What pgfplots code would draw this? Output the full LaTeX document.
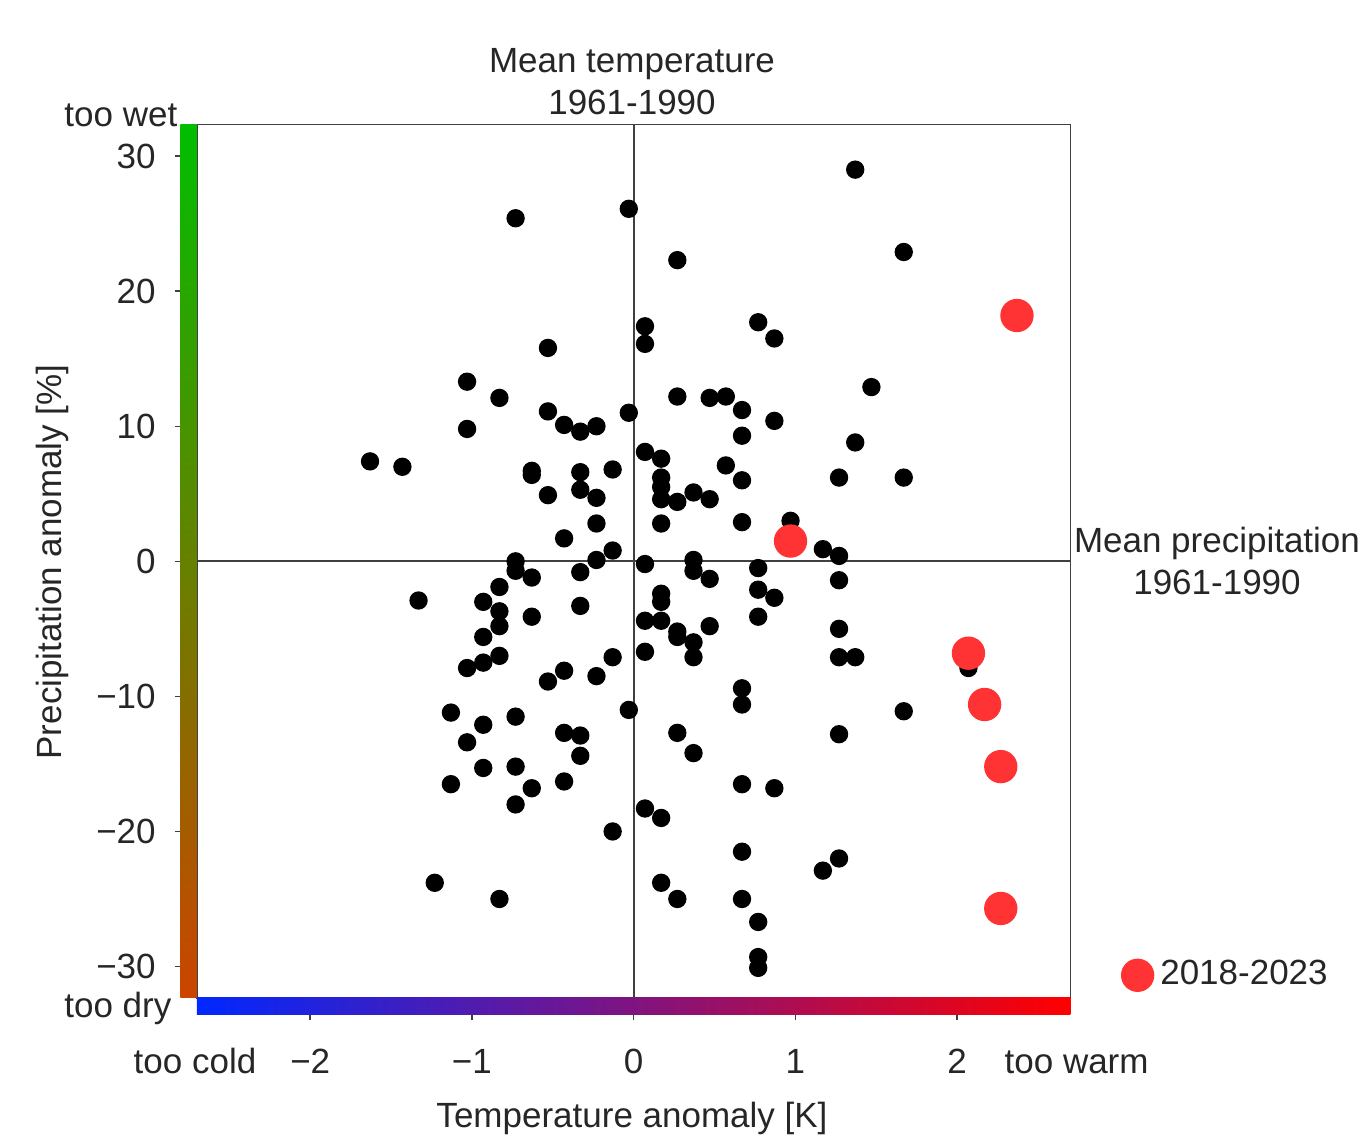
\documentclass[border=0pt]{standalone}
\usepackage{fontspec}
\setmainfont{Liberation Sans}
\usepackage{pgfplots}
\pgfplotsset{compat=1.18}
\definecolor{txt}{HTML}{262626}
\definecolor{dotred}{HTML}{FF3333}
\definecolor{wet}{HTML}{00BE00}
\definecolor{dry}{HTML}{CC4400}
\definecolor{cold}{HTML}{0028FF}
\definecolor{warm}{HTML}{FF0000}

\begin{document}
\fontsize{10.5pt}{12.6pt}\selectfont
\begin{tikzpicture}[text=txt]
\path[use as bounding box] (-59.1pt,-43.5pt) rectangle (348.9pt,299.4pt);
\begin{axis}[
  width=262pt, height=262pt, scale only axis,
  xmin=-2.7, xmax=2.7, ymin=-32.33, ymax=32.33,
  clip=false,
  axis line style={draw=black!75, line width=0.45pt},
  tick align=outside,
  major tick length=6.7pt,
  tick style={black!75, line width=0.45pt},
  xtick pos=bottom, ytick pos=left,
  xtick={-2,-1,0,1,2}, xticklabels={−2,−1,0,1,2},
  ytick={-30,-20,-10,0,10,20,30},
  yticklabels={−30,−20,−10,0,10,20,30},
  xticklabel style={yshift=-5pt},
  yticklabel style={xshift=-2pt},
  legend style={at={(axis description cs:1.058,0.026)}, anchor=west,
    draw=none, fill=none, inner sep=0pt},
  legend image code/.code={\draw[mark repeat=2,mark phase=2]
    plot coordinates {(0pt,0pt) (4.8pt,0pt) (9.6pt,0pt)};},
]
% colour bars along the axes
\shade[top color=wet, bottom color=dry]
  ([xshift=-5pt]rel axis cs:0,0) rectangle (rel axis cs:0,1);
\shade[left color=cold, right color=warm]
  ([yshift=-5pt]rel axis cs:0,0) rectangle (rel axis cs:1,0);
% reference lines (1961-1990 means)
\draw[black!75, line width=0.6pt] (axis cs:0,-32.33) -- (axis cs:0,32.33);
\draw[black!75, line width=0.6pt] (axis cs:-2.7,0) -- (axis cs:2.7,0);

% earlier years
\addplot[only marks, mark=*, mark size=2.55pt,
  mark options={fill=black, draw=none}, forget plot] coordinates {
  (1.37,29.0) (-0.03,26.1) (-0.73,25.4) (1.67,22.9) (0.27,22.3)
  (0.07,17.4) (0.07,16.1) (0.77,17.7) (0.87,16.5) (-0.53,15.8)
  (1.47,12.9) (-1.03,13.3) (-0.83,12.1) (0.27,12.2) (0.47,12.1)
  (0.57,12.2) (0.67,11.2) (-0.03,11.0) (-0.53,11.1) (-0.43,10.1)
  (-0.33,9.6) (-0.23,10.0) (-1.03,9.8) (0.87,10.4) (0.67,9.3)
  (1.37,8.8) (0.07,8.1) (0.17,7.6) (-1.63,7.4) (-1.43,7.0)
  (-0.63,6.7) (-0.63,6.4) (-0.33,6.6) (-0.13,6.8) (0.57,7.1)
  (0.67,6.0) (1.27,6.2) (1.67,6.2) (0.17,6.2) (0.17,5.5)
  (0.17,4.6) (0.17,2.8) (-0.33,5.3) (-0.23,4.7) (-0.53,4.9)
  (0.37,5.1) (0.27,4.4) (0.47,4.6) (-0.23,2.8) (0.67,2.9)
  (0.97,3.0) (-0.43,1.7) (-0.13,0.8) (-0.23,0.1) (1.17,0.9)
  (1.27,0.4) (-0.73,0.0) (-0.73,-0.7) (-0.63,-1.2) (-0.33,-0.8)
  (0.07,-0.2) (0.37,0.1) (0.37,-0.7) (0.47,-1.3) (0.77,-0.5)
  (0.77,-2.1) (0.87,-2.7) (1.27,-1.4) (0.77,-4.1) (0.17,-2.4)
  (0.17,-3.0) (-1.33,-2.9) (-0.83,-1.9) (-0.93,-3.0) (-0.83,-3.7)
  (-0.83,-4.8) (-0.63,-4.1) (-0.33,-3.3) (-0.93,-5.6) (-0.83,-7.0)
  (-0.93,-7.5) (-1.03,-7.9) (-0.53,-8.9) (-0.43,-8.1) (-0.23,-8.5)
  (-0.13,-7.1) (0.07,-4.4) (0.17,-4.4) (0.27,-5.2) (0.27,-5.6)
  (0.37,-6.0) (0.37,-7.1) (0.47,-4.8) (0.07,-6.7) (1.27,-5.0)
  (1.27,-7.1) (1.37,-7.1) (0.67,-9.4) (0.67,-10.6) (-0.03,-11.0)
  (2.07,-7.9) (1.67,-11.1) (-1.13,-11.2) (-0.93,-12.1) (-0.73,-11.5)
  (-1.03,-13.4) (-0.43,-12.7) (-0.33,-12.9) (-0.33,-14.4) (-0.93,-15.3)
  (-0.73,-15.2) (-0.43,-16.3) (-1.13,-16.5) (-0.63,-16.8) (-0.73,-18.0)
  (0.27,-12.7) (0.37,-14.2) (0.07,-18.3) (0.17,-19.0) (-0.13,-20.0)
  (-1.23,-23.8) (-0.83,-25.0) (0.17,-23.8) (0.27,-25.0) (1.27,-12.8)
  (0.67,-16.5) (0.87,-16.8) (0.67,-21.5) (1.27,-22.0) (1.17,-22.9)
  (0.67,-25.0) (0.77,-26.7) (0.77,-29.3) (0.77,-30.1)
};

% 2018-2023
\addplot[only marks, mark=*, mark size=4.8pt, color=dotred,
  mark options={fill=dotred, draw=none}] coordinates {
  (0.97,1.5) (2.07,-6.8) (2.17,-10.6) (2.27,-15.2) (2.27,-25.7) (2.37,18.2)
};
\addlegendentry{2018-2023}
\end{axis}

\node[align=center] at (130.5pt,274.8pt) {Mean temperature\\1961-1990};
\node[align=center] at (306pt,131.1pt) {Mean precipitation\\1961-1990};
\node[anchor=base east, inner sep=0pt] at (-5.7pt,261.3pt) {too wet};
\node[anchor=base east, inner sep=0pt] at (-7.5pt,-6pt) {too dry};
\node[anchor=base east, inner sep=0pt] at (18pt,-22.8pt) {too cold};
\node[anchor=base west, inner sep=0pt] at (242.1pt,-22.8pt) {too warm};
\node[anchor=base, inner sep=0pt] at (130.5pt,-39pt) {Temperature anomaly [K]};
\node[rotate=90] at (-43.5pt,130.8pt) {Precipitation anomaly [\%]};
\end{tikzpicture}
\end{document}
